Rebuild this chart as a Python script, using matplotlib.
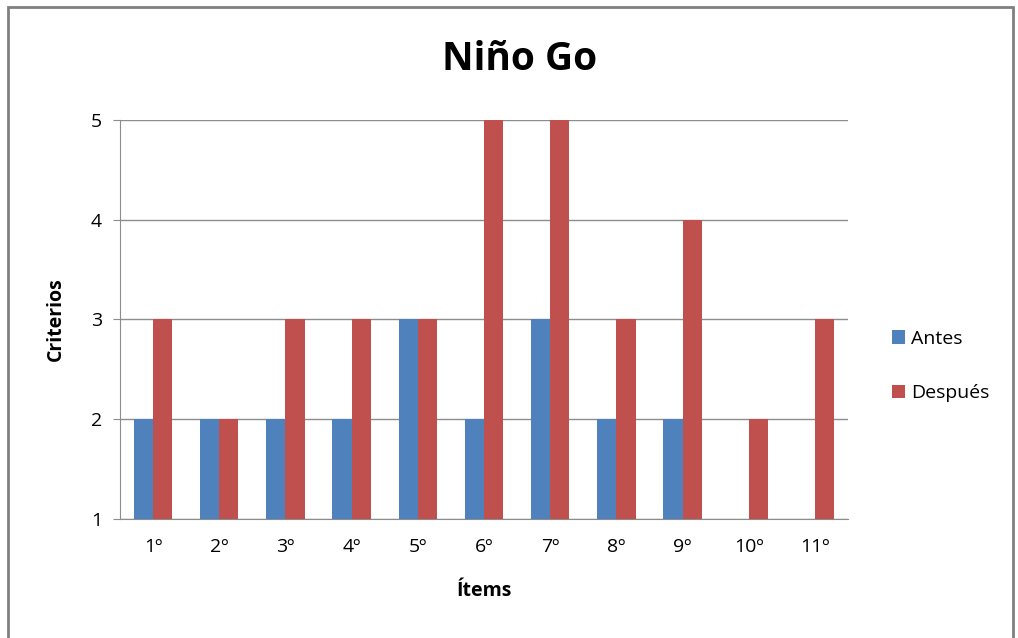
import matplotlib

matplotlib.use("Agg")
import matplotlib.pyplot as plt  # noqa: E402
import numpy as np
from matplotlib.patches import Rectangle

items = ["1º", "2º", "3º", "4º", "5º", "6º", "7º", "8º", "9º", "10º", "11º"]
antes = [2, 2, 2, 2, 3, 2, 3, 2, 2, 1, 1]
despues = [3, 2, 3, 3, 3, 5, 5, 3, 4, 2, 3]
y_ticks = [1, 2, 3, 4, 5]

BLUE = "#4F81BD"
RED = "#C0504D"
GRID = "#8C8C8C"

plt.rcParams["font.family"] = ["Open Sans", "DejaVu Sans"]

fig = plt.figure(figsize=(10.18, 6.38), dpi=100)
ax = fig.add_axes([0.1179, 0.1865, 0.7152, 0.6255])

x = np.arange(len(items))
w = 0.29
base = 1
ax.bar(x - w / 2, np.array(antes) - base, w, bottom=base, color=BLUE, label="Antes", zorder=3)
ax.bar(x + w / 2, np.array(despues) - base, w, bottom=base, color=RED, label="Después", zorder=3)

ax.set_xlim(-0.5, len(items) - 0.5)
ax.set_ylim(1, 5)
ax.set_yticks(y_ticks)
ax.set_xticks(x)
ax.set_xticklabels(items, fontsize=14)
ax.tick_params(axis="y", labelsize=14, length=5, color=GRID, pad=8)
ax.tick_params(axis="x", length=0, pad=14)
ax.yaxis.grid(True, color=GRID, linewidth=1, zorder=0)
for s in ("top", "right"):
    ax.spines[s].set_visible(False)
ax.spines["left"].set_color(GRID)
ax.spines["bottom"].set_color(GRID)

ax.set_ylabel("Criterios", fontsize=14, fontweight="bold", labelpad=18)
ax.set_xlabel("Ítems", fontsize=14, fontweight="bold", labelpad=18)
fig.text(0.51, 1 - 60 / 638, "Niño Go", ha="center", va="center", fontsize=28, fontweight="bold")

ax.legend(loc="center left", bbox_to_anchor=(882 / 1018, 1 - 366 / 638),
          bbox_transform=fig.transFigure, frameon=False, fontsize=14,
          handlelength=0.7, handleheight=0.7, handletextpad=0.3, labelspacing=1.9,
          borderpad=0)

fig.add_artist(Rectangle((8 / 1018, -0.01), 1005 / 1018, 1 - 7 / 638 + 0.01,
                         transform=fig.transFigure, fill=False, edgecolor="#808080", linewidth=2))

fig.savefig("out.png", dpi=100)
